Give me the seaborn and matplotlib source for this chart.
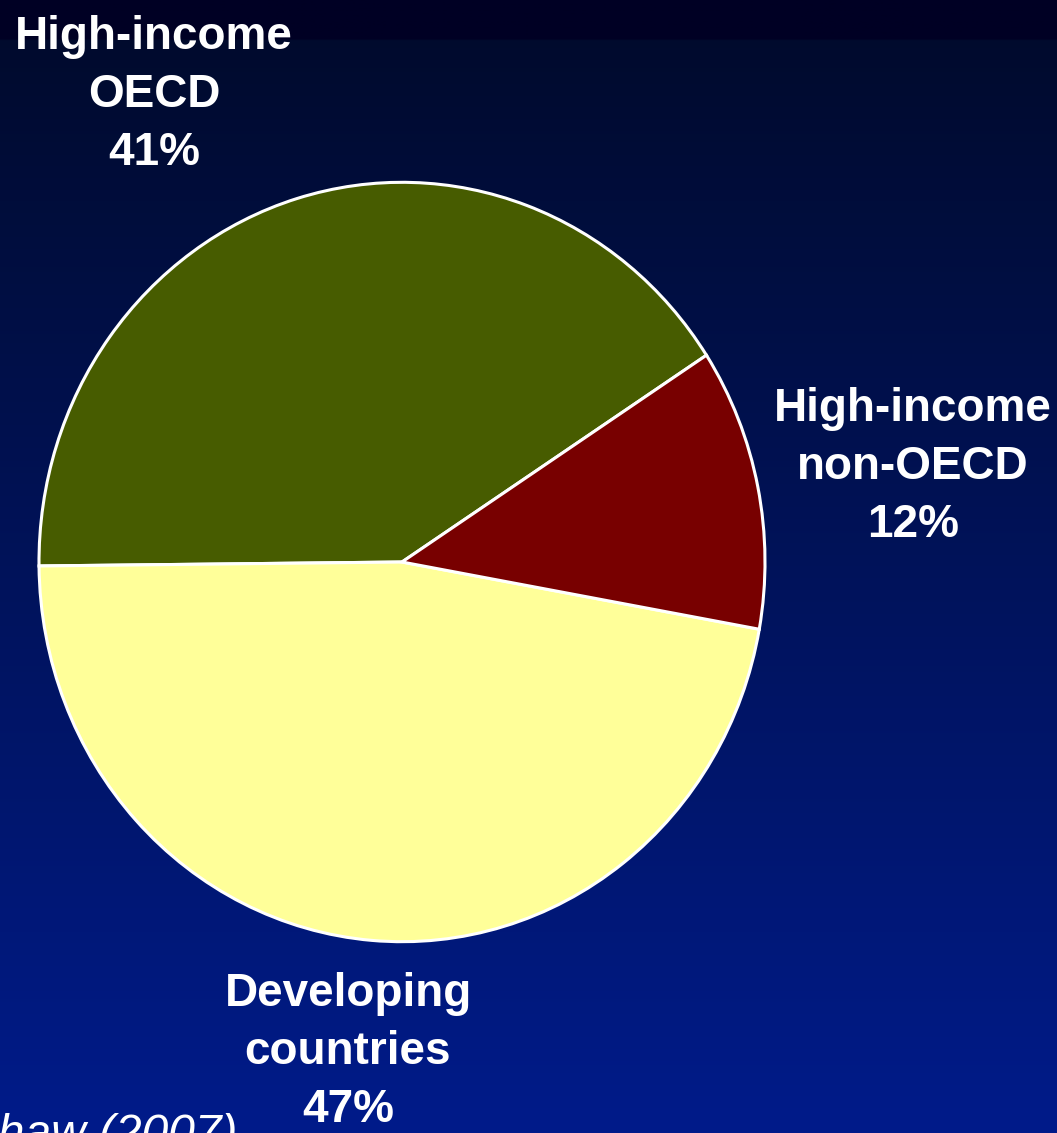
import numpy as np
import matplotlib
matplotlib.use("Agg")
import matplotlib.pyplot as plt
import seaborn as sns

sns.set_theme(style="white")
plt.rcParams['font.family'] = ['Liberation Sans', 'DejaVu Sans']

categories = ["High-income\nOECD", "Developing\ncountries", "High-income\nnon-OECD"]
shares = [41, 47, 12]
colors = ["#475c00", "#ffff99", "#780000"]

W, H = 1057, 1133
fig = plt.figure(figsize=(W / 100, H / 100), dpi=100)
ax = fig.add_axes([0, 0, 1, 1])
ystretch = 1.046
ax.set_xlim(0, W)
ax.set_ylim(0, H / ystretch)
ax.set_axis_off()

# background gradient
t = np.linspace(0, 1, 400)[:, None]
top = np.array([0, 10, 42]) / 255
bot = np.array([0, 27, 138]) / 255
grad = top + (bot - top) * t
grad = np.repeat(grad[:, None, :], 2, axis=1)
band = int(400 * 40 / H)
grad[:band] = np.array([0, 0, 36]) / 255
ax.imshow(grad, extent=[0, W, 0, H / ystretch], aspect='auto', zorder=0, origin='upper')

cx, cy = 402, (H - 562) / ystretch
ax.pie(shares, colors=colors, startangle=33, counterclock=True,
       center=(cx, cy), radius=363, frame=True,
       wedgeprops=dict(edgecolor="white", linewidth=2.2))
ax.set_xlim(0, W)
ax.set_ylim(0, H / ystretch)
ax.set_aspect('auto')
ax.set_axis_off()

label_pos = [(154, 95), (348, 1052), (913, 467)]
for cat, val, (lx, ly) in zip(categories, shares, label_pos):
    fig.text(lx / W, 1 - ly / H, f"{cat}\n{val}%", ha="center", va="center",
             color="white", fontsize=33, fontweight="bold", linespacing=1.41)

fig.text(237 / W, 1 - 1148 / H, "Shaw (2007)", ha="right", va="baseline",
         color="white", fontsize=34.5, fontstyle="italic")

fig.savefig("out.png", dpi=100)
